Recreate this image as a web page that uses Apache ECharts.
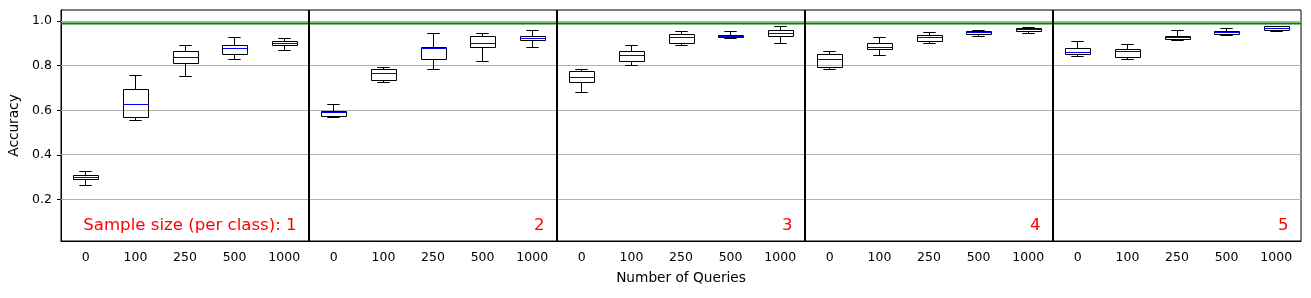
<!DOCTYPE html>
<html>
<head>
<meta charset="utf-8">
<script src="https://cdn.jsdelivr.net/npm/echarts@6/dist/echarts.min.js"></script>
<style>html,body{margin:0;padding:0;background:#fff}#c{width:1311px;height:298px}</style>
</head>
<body>
<div id="c"></div>
<script>
// ---- data ----
const queryLabels = ['0', '100', '250', '500', '1000'];
const sampleSizes = [1, 2, 3, 4, 5];
const whiskerLow = [
  0.263, 0.556, 0.752, 0.826, 0.870,
  0.569, 0.727, 0.781, 0.821, 0.884,
  0.682, 0.799, 0.893, 0.920, 0.898,
  0.785, 0.844, 0.898, 0.929, 0.943,
  0.840, 0.826, 0.911, 0.934, 0.952
];
const q1 = [
  0.290, 0.569, 0.808, 0.849, 0.892,
  0.574, 0.736, 0.830, 0.884, 0.911,
  0.727, 0.821, 0.902, 0.925, 0.929,
  0.794, 0.871, 0.907, 0.939, 0.952,
  0.849, 0.835, 0.916, 0.939, 0.956
];
const median = [
  0.299, 0.628, 0.839, 0.876, 0.898,
  0.590, 0.767, 0.877, 0.902, 0.920,
  0.749, 0.844, 0.925, 0.929, 0.943,
  0.826, 0.884, 0.925, 0.948, 0.961,
  0.858, 0.862, 0.925, 0.948, 0.966
];
const q3 = [
  0.309, 0.695, 0.866, 0.893, 0.910,
  0.595, 0.781, 0.884, 0.929, 0.929,
  0.772, 0.866, 0.939, 0.934, 0.956,
  0.849, 0.898, 0.934, 0.952, 0.966,
  0.876, 0.871, 0.929, 0.952, 0.975
];
const whiskerHigh = [
  0.326, 0.758, 0.893, 0.925, 0.920,
  0.628, 0.793, 0.943, 0.943, 0.956,
  0.785, 0.889, 0.952, 0.952, 0.975,
  0.866, 0.925, 0.948, 0.956, 0.970,
  0.907, 0.895, 0.956, 0.966, 0.975
];
const yTicks = [0.2, 0.4, 0.6, 0.8, 1.0];
const referenceAccuracy = 0.99;
const yMin = 0.014, yMax = 1.05;

// ---- derived ----
const nQ = queryLabels.length;
const categories = sampleSizes.flatMap(() => queryLabels);
const boxData = categories.map((_, i) => [i, whiskerLow[i], q1[i], median[i], q3[i], whiskerHigh[i]]);
const separators = sampleSizes.slice(1).map((_, g) => (g + 1) * nQ + 0.5);
const groupText = sampleSizes.map((s, g) => [(g + 1) * nQ + 0.25, g === 0 ? 'Sample size (per class): ' + s : String(s)]);

const font = 'DejaVu Sans';
const px = v => Math.round(v - 0.5) + 0.5;

const chart = echarts.init(document.getElementById('c'), null, {renderer: 'canvas'});
chart.setOption({
  animation: false,
  backgroundColor: '#fff',
  grid: {left: 61, right: 10, top: 10, bottom: 57, show: true, borderColor: '#000', borderWidth: 1, outerBoundsMode: 'none'},
  xAxis: [{
    type: 'category',
    data: categories,
    boundaryGap: true,
    name: 'Number of Queries',
    nameLocation: 'middle',
    nameGap: 30,
    nameTextStyle: {fontFamily: font, fontSize: 13.7, color: '#000'},
    axisLine: {lineStyle: {color: '#000', width: 1}},
    axisTick: {alignWithLabel: true, length: 4, lineStyle: {color: '#000'}},
    axisLabel: {fontFamily: font, fontSize: 12.5, color: '#000', margin: 10, interval: 0},
    splitLine: {show: false}
  }, {
    type: 'value',
    min: 0.5,
    max: categories.length + 0.5,
    show: false
  }],
  yAxis: {
    type: 'value',
    min: yMin,
    max: yMax,
    name: 'Accuracy',
    nameLocation: 'middle',
    nameGap: 37,
    nameTextStyle: {fontFamily: font, fontSize: 13.7, color: '#000'},
    axisLine: {show: true, lineStyle: {color: '#000', width: 1}},
    axisTick: {show: true, length: 4, lineStyle: {color: '#000'}, customValues: yTicks},
    axisLabel: {fontFamily: font, fontSize: 12.5, color: '#000', margin: 9, customValues: yTicks, formatter: v => v.toFixed(1)},
    splitLine: {show: false}
  },
  series: [{
    type: 'custom',
    name: 'grid',
    xAxisIndex: 1,
    silent: true,
    z: 1,
    data: yTicks.map(v => [v]),
    renderItem(params, api) {
      const v = api.value(0);
      const a = api.coord([0.5, v]);
      const b = api.coord([categories.length + 0.5, v]);
      const y = px(a[1]);
      return {type: 'line', shape: {x1: a[0], y1: y, x2: b[0], y2: y}, style: {stroke: '#b0b0b0', lineWidth: 1}};
    }
  }, {
    type: 'custom',
    name: 'reference',
    xAxisIndex: 1,
    silent: true,
    z: 2,
    data: [[referenceAccuracy]],
    renderItem(params, api) {
      const v = api.value(0);
      const a = api.coord([0.5, v]);
      const b = api.coord([categories.length + 0.5, v]);
      return {type: 'line', shape: {x1: a[0], y1: a[1], x2: b[0], y2: b[1]}, style: {stroke: '#008000', lineWidth: 2}};
    }
  }, {
    type: 'custom',
    name: 'boxes',
    z: 3,
    data: boxData,
    renderItem(params, api) {
      const i = api.value(0);
      const lo = api.coord([i, api.value(1)]);
      const a = api.coord([i, api.value(2)]);
      const m = api.coord([i, api.value(3)]);
      const b = api.coord([i, api.value(4)]);
      const hi = api.coord([i, api.value(5)]);
      const w = api.size([1, 0])[0];
      const cx = px(lo[0]);
      const bw = w * 0.5, cw = w * 0.25;
      const yl = px(lo[1]), ya = px(a[1]), ym = px(m[1]), yb = px(b[1]), yh = px(hi[1]);
      const ls = {stroke: '#000', lineWidth: 1};
      const bx = Math.round(cx - bw / 2) + 0.5, bwr = Math.round(bw);
      return {type: 'group', children: [
        {type: 'line', shape: {x1: cx, y1: yl, x2: cx, y2: ya}, style: ls},
        {type: 'line', shape: {x1: cx, y1: yb, x2: cx, y2: yh}, style: ls},
        {type: 'line', shape: {x1: cx - cw / 2, y1: yl, x2: cx + cw / 2, y2: yl}, style: ls},
        {type: 'line', shape: {x1: cx - cw / 2, y1: yh, x2: cx + cw / 2, y2: yh}, style: ls},
        {type: 'rect', shape: {x: bx, y: yb, width: bwr, height: ya - yb}, style: {fill: 'none', stroke: '#000', lineWidth: 1}},
        {type: 'line', shape: {x1: bx, y1: ym, x2: bx + bwr, y2: ym}, style: {stroke: '#0000ff', lineWidth: 1}, z2: 2}
      ]};
    }
  }, {
    type: 'custom',
    name: 'separators',
    xAxisIndex: 1,
    silent: true,
    z: 4,
    data: separators.map(x => [x]),
    renderItem(params, api) {
      const x = api.value(0);
      const a = api.coord([x, yMin]);
      const b = api.coord([x, yMax]);
      const xx = Math.round(a[0]);
      return {type: 'line', shape: {x1: xx, y1: a[1], x2: xx, y2: b[1]}, style: {stroke: '#000', lineWidth: 2}};
    }
  }, {
    type: 'custom',
    name: 'labels',
    xAxisIndex: 1,
    silent: true,
    z: 5,
    data: groupText,
    renderItem(params, api) {
      const p = api.coord([api.value(0), 0.082]);
      return {type: 'text', x: p[0], y: p[1], style: {text: groupText[params.dataIndex][1], fill: '#ff0000', font: '16.6px "DejaVu Sans"', textAlign: 'right', textVerticalAlign: 'middle'}};
    }
  }]
});
</script>
</body>
</html>
